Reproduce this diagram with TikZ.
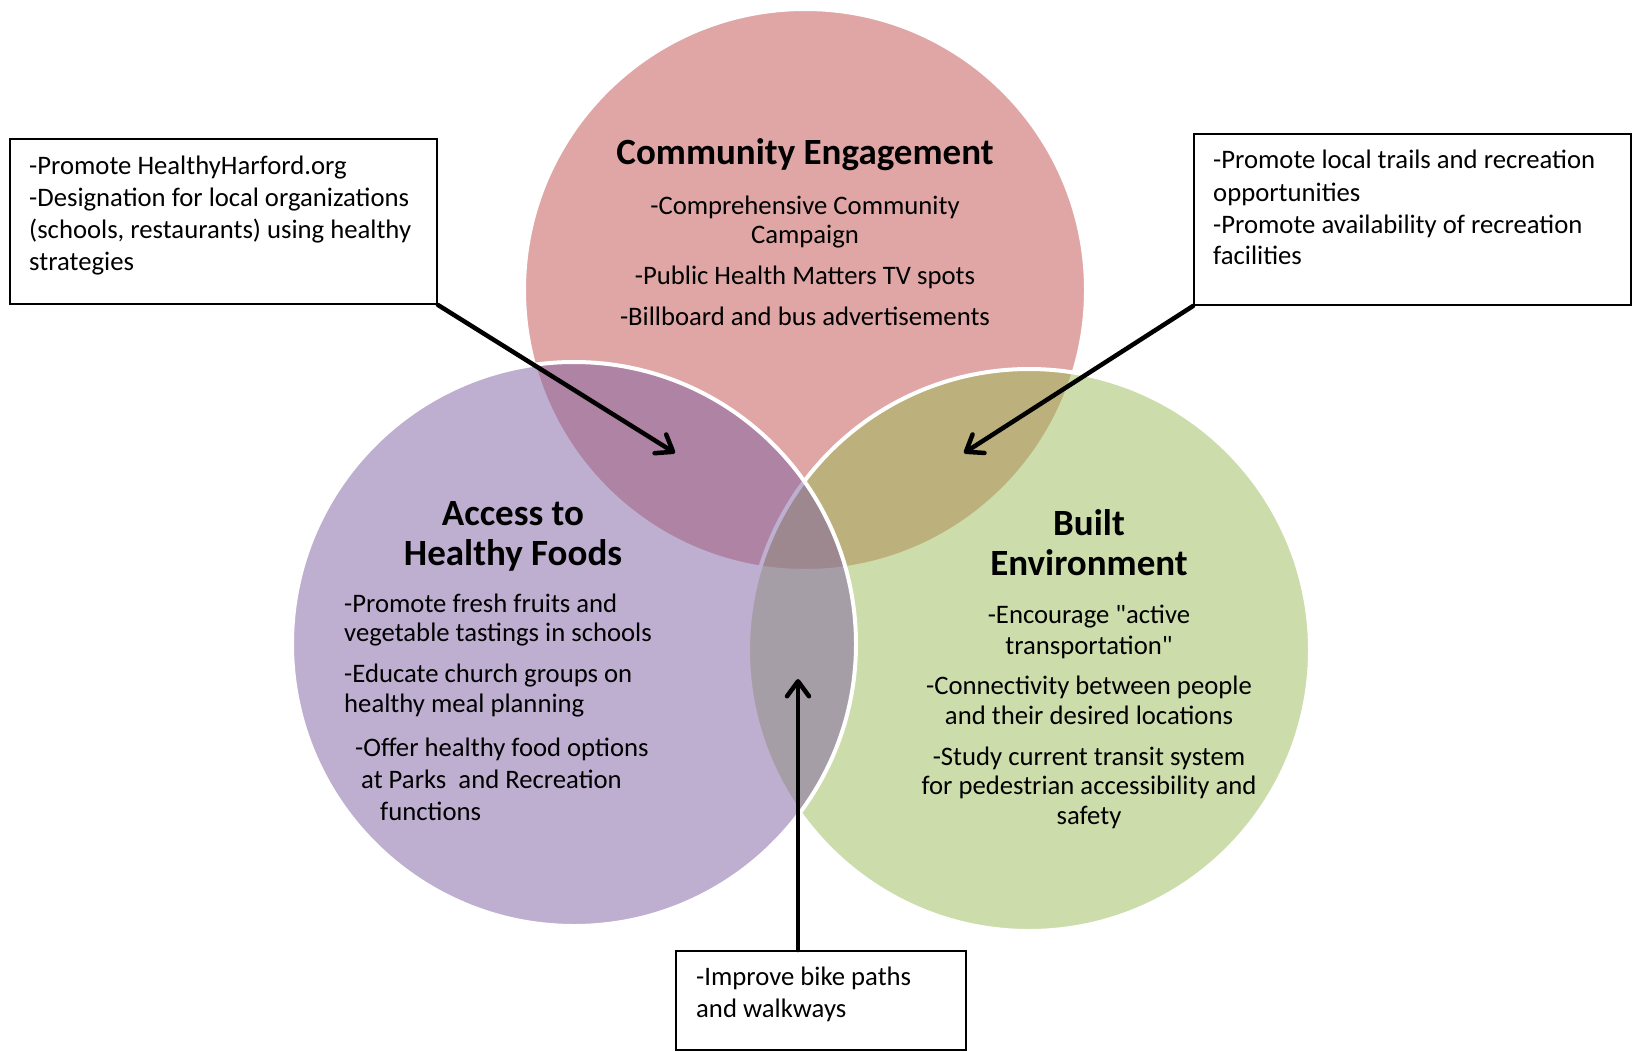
\documentclass[tikz,border=0pt]{standalone}
\usepackage{fontspec}
\setmainfont{Carlito}[Ligatures=TeXOff]
\usetikzlibrary{arrows.meta}
\definecolor{engage}{RGB}{193,79,77}
\definecolor{foods}{RGB}{127,97,163}
\definecolor{built}{RGB}{155,187,87}
\begin{document}
\begin{tikzpicture}[x=1pt,y=-1pt,
  disc/.style={fill=#1, fill opacity=0.5},
  rim/.style={draw=white, line width=4pt},
  infobox/.style={draw=black, line width=2pt, fill=white, inner sep=0pt, anchor=north west},
  pointer/.style={line width=4.5pt, line cap=round, -{Straight Barb[length=15pt,width=22pt,round]}},
  body/.style={font=\fontsize{26.7}{32}\selectfont, inner sep=0pt, anchor=base},
  bodyl/.style={body, anchor=base west},
  head/.style={font=\fontsize{37}{44}\selectfont\bfseries, inner sep=0pt, anchor=base}]
\useasboundingbox (0,0) rectangle (1633,1052);
\fill[white] (0,0) rectangle (1633,1052);

% the three overlapping circles, each translucent with a white rim
\fill[disc=engage] (805,290) circle[radius=281pt];
\draw[rim] (805,290) circle[radius=281pt];
\fill[disc=built] (1029,650) circle[radius=281pt];
\draw[rim] (1029,650) circle[radius=281pt];
\fill[disc=foods] (574,644) circle[radius=282pt];
\draw[rim] (574,644) circle[radius=282pt];

% Community Engagement
\node[head] (ceT) at (805,164) {Community Engagement};
\node[body] (ce1) at (805,214) {-Comprehensive Community};
\node[body] (ce2) at (805,243) {Campaign};
\node[body] (ce3) at (805,284) {-Public Health Matters TV spots};
\node[body] (ce4) at (805,325) {-Billboard and bus advertisements};

% Access to Healthy Foods
\node[head] (afT1) at (513,525) {Access to};
\node[head] (afT2) at (513,565) {Healthy Foods};
\node[bodyl] (af1) at (344,612) {-Promote fresh fruits and};
\node[bodyl] (af2) at (344,641) {vegetable tastings in schools};
\node[bodyl] (af3) at (344,682) {-Educate church groups on};
\node[bodyl] (af4) at (344,712) {healthy meal planning};
\node[bodyl] (af5) at (355,756) {-Offer healthy food options};
\node[bodyl] (af6) at (361,788) {at Parks\ \ and Recreation};
\node[bodyl] (af7) at (380,820) {functions};

% Built Environment
\node[head] (beT1) at (1089,535) {Built};
\node[head] (beT2) at (1089,575) {Environment};
\node[body] (be1) at (1089,623) {-Encourage "active};
\node[body] (be2) at (1089,654) {transportation"};
\node[body] (be3) at (1089,694) {-Connectivity between people};
\node[body] (be4) at (1089,724) {and their desired locations};
\node[body] (be5) at (1089,765) {-Study current transit system};
\node[body] (be6) at (1089,794) {for pedestrian accessibility and};
\node[body] (be7) at (1089,824) {safety};

% call-out boxes
\node[infobox, minimum width=427pt, minimum height=165pt] (hhbox) at (9,138) {};
\node[bodyl] (hh1) at (29,174) {-Promote HealthyHarford.org};
\node[bodyl] (hh2) at (29,206) {-Designation for local organizations};
\node[bodyl] (hh3) at (29,238) {(schools, restaurants) using healthy};
\node[bodyl] (hh4) at (29,270) {strategies};

\node[infobox, minimum width=437pt, minimum height=171pt] (trbox) at (1193,133) {};
\node[bodyl] (tr1) at (1213,168) {-Promote local trails and recreation};
\node[bodyl] (tr2) at (1213,201) {opportunities};
\node[bodyl] (tr3) at (1213,233) {-Promote availability of recreation};
\node[bodyl] (tr4) at (1213,264) {facilities};

\node[infobox, minimum width=290pt, minimum height=99pt] (bkbox) at (675,950) {};
\node[bodyl] (bk1) at (696,985) {-Improve bike paths};
\node[bodyl] (bk2) at (696,1017) {and walkways};

% arrows into the overlaps
\coordinate (tipA) at (675,453);
\coordinate (tipB) at (964,453);
\coordinate (tipC) at (798,679);
\draw[pointer] (hhbox.south east) -- (tipA);
\draw[pointer] (trbox.south west) -- (tipB);
\draw[pointer] (bkbox.north -| tipC) -- (tipC);
\end{tikzpicture}
\end{document}
